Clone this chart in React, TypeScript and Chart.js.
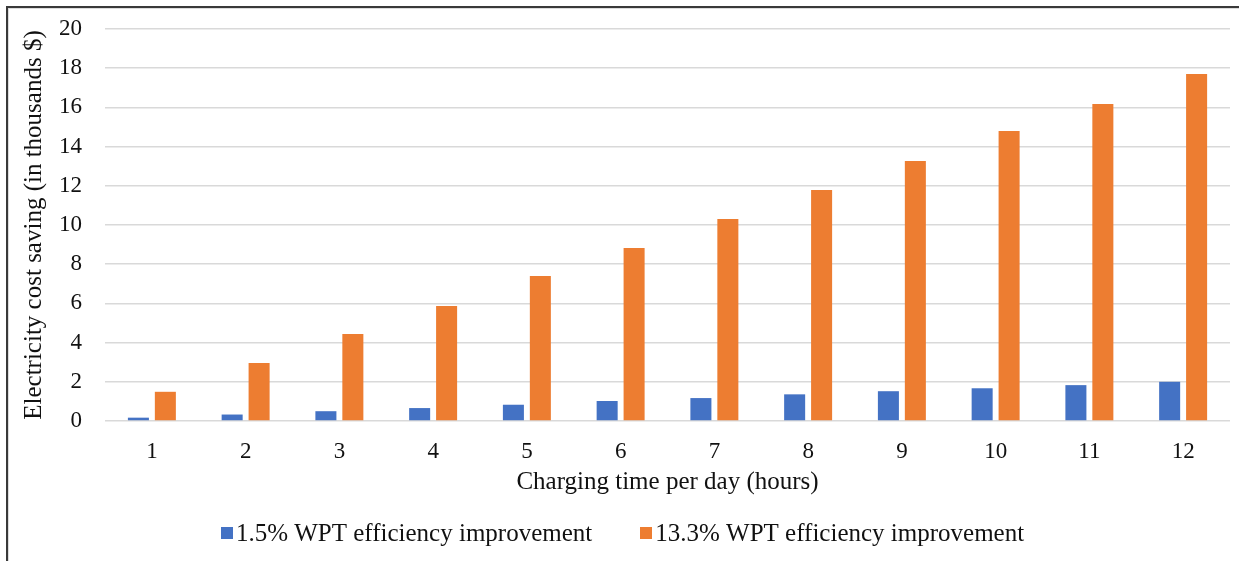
import { useEffect, useRef } from "react";
import { Chart, registerables } from "chart.js";

Chart.register(...registerables);

// Charging hours per day (x categories)
const hours = ["1", "2", "3", "4", "5", "6", "7", "8", "9", "10", "11", "12"];

// Electricity cost saving, thousands of dollars
const saving15 = [0.17, 0.33, 0.5, 0.66, 0.83, 1.02, 1.17, 1.36, 1.52, 1.67, 1.83, 2.0];
const saving133 = [1.49, 2.96, 4.44, 5.87, 7.4, 8.83, 10.3, 11.79, 13.27, 14.8, 16.17, 17.7];

const seriesLabels = [
  "1.5% WPT efficiency improvement",
  "13.3% WPT efficiency improvement",
];
const seriesColors = ["#4472C4", "#ED7D31"];

const yMin = 0;
const yMax = 20;
const yStep = 2;

const FONT = '"Liberation Serif", "Times New Roman", serif';
const TEXT = "#111111";

// Legend row under the axis title: small square, tight gap, label
const bottomLegend = {
  id: "bottomLegend",
  afterDraw(chart: any) {
    const ctx = chart.ctx as CanvasRenderingContext2D;
    ctx.save();
    ctx.font = `25px ${FONT}`;
    ctx.textBaseline = "middle";
    ctx.textAlign = "left";
    const box = 12;
    const gap = 3;
    const itemGap = 48;
    const items = chart.data.datasets.map((ds: any) => ({
      label: ds.label as string,
      color: ds.backgroundColor as string,
      w: box + gap + ctx.measureText(ds.label).width,
    }));
    const total =
      items.reduce((s: number, it: any) => s + it.w, 0) + itemGap * (items.length - 1);
    let x = chart.width / 2 + 3 - total / 2;
    const y = chart.height - 28;
    for (const it of items) {
      ctx.fillStyle = it.color;
      ctx.fillRect(Math.round(x), Math.round(y - box / 2), box, box);
      ctx.fillStyle = TEXT;
      ctx.fillText(it.label, x + box + gap, y + 1);
      x += it.w + itemGap;
    }
    ctx.restore();
  },
};

export default function App() {
  const canvasRef = useRef<HTMLCanvasElement | null>(null);

  useEffect(() => {
    if (!canvasRef.current) return;
    const chart = new Chart(canvasRef.current, {
      type: "bar",
      data: {
        labels: hours,
        datasets: [
          {
            label: seriesLabels[0],
            data: saving15,
            backgroundColor: seriesColors[0],
            categoryPercentage: 0.575,
            barPercentage: 0.78,
          },
          {
            label: seriesLabels[1],
            data: saving133,
            backgroundColor: seriesColors[1],
            categoryPercentage: 0.575,
            barPercentage: 0.78,
          },
        ],
      },
      options: {
        responsive: false,
        animation: false,
        layout: { padding: { left: 15, top: 29, right: 9, bottom: 64 } },
        plugins: {
          legend: { display: false },
          tooltip: { enabled: false },
        },
        scales: {
          x: {
            grid: { display: false, drawTicks: false },
            border: { display: false },
            ticks: {
              color: TEXT,
              font: { family: FONT, size: 23 },
              padding: 17,
              maxRotation: 0,
            },
            title: {
              display: true,
              text: "Charging time per day (hours)",
              color: TEXT,
              font: { family: FONT, size: 25 },
              padding: { top: 0, bottom: 0 },
            },
            afterFit(scale: any) {
              scale.height = 76;
            },
          },
          y: {
            min: yMin,
            max: yMax,
            grid: {
              color: "#d9d9d9",
              lineWidth: 1.5,
              drawTicks: true,
              tickLength: 23,
              tickColor: "rgba(0,0,0,0)",
            },
            border: { display: false },
            ticks: {
              stepSize: yStep,
              color: TEXT,
              font: { family: FONT, size: 23 },
              padding: 0,
            },
            title: {
              display: true,
              text: "Electricity cost saving (in thousands $)",
              color: TEXT,
              font: { family: FONT, size: 25 },
              padding: { top: 4, bottom: 0 },
            },
            afterFit(scale: any) {
              scale.width = 90;
            },
          },
        },
      },
      plugins: [bottomLegend],
    });
    return () => chart.destroy();
  }, []);

  return (
    <div
      style={{
        position: "fixed",
        left: 0,
        top: 0,
        width: 1239,
        height: 561,
        background: "#ffffff",
        overflow: "hidden",
      }}
    >
      <canvas
        ref={canvasRef}
        width={1239}
        height={561}
        style={{ position: "absolute", left: 0, top: 0 }}
      />
      <div style={{ position: "absolute", left: 6, top: 6, right: 0, height: 2, background: "#3a3a3a" }} />
      <div style={{ position: "absolute", left: 8, top: 8, right: 0, height: 1, background: "#dcdcdc" }} />
      <div style={{ position: "absolute", left: 6, top: 6, bottom: 0, width: 2, background: "#3a3a3a" }} />
      <div style={{ position: "absolute", left: 8, top: 8, bottom: 0, width: 1, background: "#dcdcdc" }} />
    </div>
  );
}
